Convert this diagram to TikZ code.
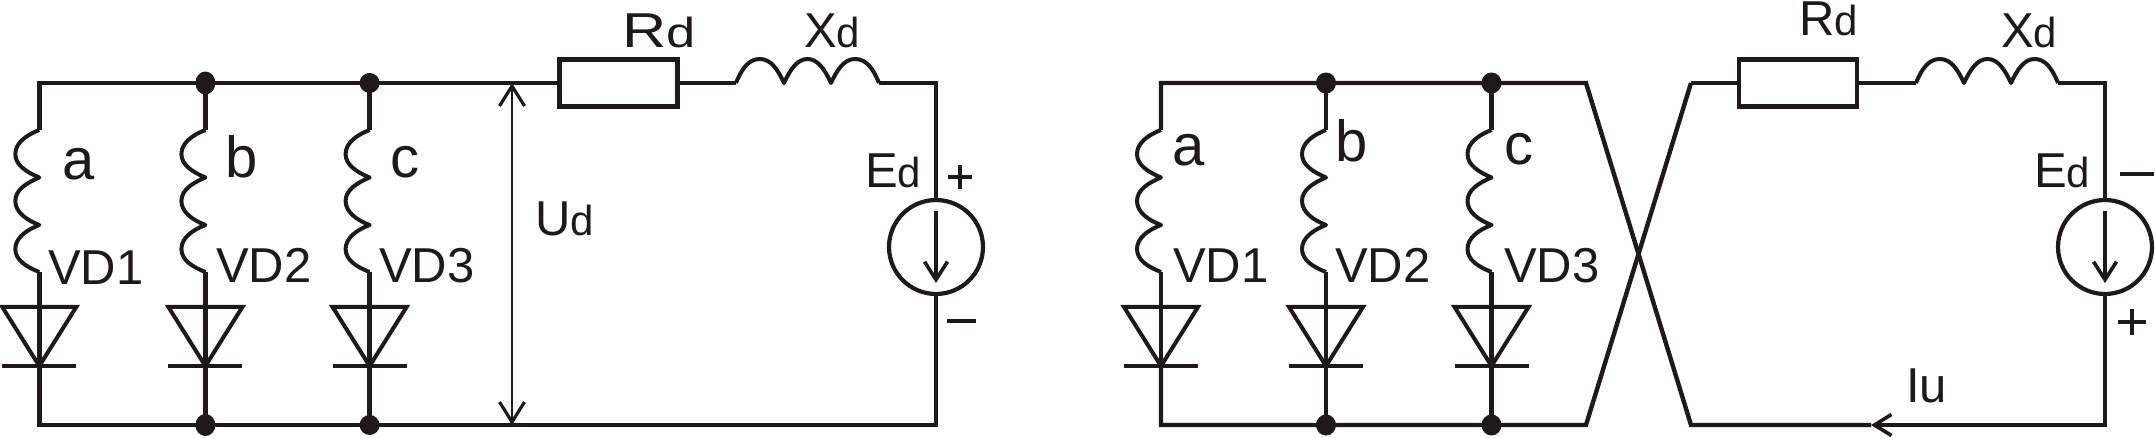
\documentclass[tikz,border=0pt]{standalone}
\usepackage{fontspec}
\setmainfont{Liberation Sans}
\usetikzlibrary{shapes.geometric,arrows.meta}
\definecolor{ink}{HTML}{1F1A17}
\tikzset{
  wire/.style={draw=ink,line width=4.4pt,line join=miter},
  thinwire/.style={draw=ink,line width=3.2pt},
  coil/.style={draw=ink,line width=4pt,line join=round},
  diodeshape/.style={draw=ink,line width=4pt,line join=miter},
  junction/.style={ellipse,fill=ink,draw=none,inner sep=0pt,minimum width=20pt,minimum height=#1},
  junction/.default=21pt,
  resbox/.style={rectangle,draw=ink,line width=4.4pt,fill=white,inner sep=0pt,minimum width=118pt,minimum height=47pt},
  source/.style={circle,draw=ink,line width=4.2pt,inner sep=0pt,minimum size=94pt},
  lab/.style={anchor=base west,inner sep=0pt,outer sep=0pt,text=ink},
  sign/.style={draw=ink,line width=3.8pt},
  voltarrow/.style={draw=ink,line width=2pt,{Straight Barb[length=20pt,width=25pt,line width=3.2pt]}-{Straight Barb[length=20pt,width=25pt,line width=3.2pt]}},
  emfarrow/.style={draw=ink,line width=3.6pt,-{Straight Barb[length=18pt,width=23pt,line width=3.6pt]}},
  currarrow/.style={wire,-{Straight Barb[length=17pt,width=21pt,line width=3.6pt]}}
}
\newcommand{\capl}[1]{\fontsize{49}{49}\selectfont #1}
\newcommand{\subd}{\fontsize{42}{42}\selectfont d}
\newcommand{\phasel}[1]{\fontsize{58}{58}\selectfont #1}
% one branch: prefix, x
\newcommand{\mybranch}[2]{%
  \coordinate (#1t) at (#2,83);
  \coordinate (#1c0) at (#2,130);
  \coordinate (#1c3) at (#2,272);
  \coordinate (#1d) at (#2,366);
  \coordinate (#1b) at (#2,425);
  \draw[wire] (#1t) -- (#1c0);
  \draw[coil] (#1c0)
    .. controls (#2-13,135) and (#2-24,143) .. (#2-24,154)
    .. controls (#2-24,165) and (#2-13,172) .. (#2,177.5)
    .. controls (#2-13,183) and (#2-24,190) .. (#2-24,201)
    .. controls (#2-24,212) and (#2-13,220) .. (#2,225)
    .. controls (#2-13,230) and (#2-24,238) .. (#2-24,249)
    .. controls (#2-24,260) and (#2-13,267) .. (#1c3);
  \draw[wire] (#1c3) -- (#1b);
  \draw[diodeshape] (#2-37,307) -- (#2+37,307) -- (#1d) -- cycle;
  \draw[diodeshape] (#2-37,366) -- (#2+37,366);
}
% horizontal coil: prefix, x0, x1, x2, x3
\newcommand{\myhcoil}[5]{%
  \coordinate (#1a) at (#2,83);
  \coordinate (#1z) at (#5,83);
  \draw[coil] (#1a)
    .. controls (#2+6,68) and (#2+13,59) .. ({(#2+#3)/2},59)
    .. controls (#3-13,59) and (#3-6,70) .. (#3,83)
    .. controls (#3+6,70) and (#3+13,59) .. ({(#3+#4)/2},59)
    .. controls (#4-13,59) and (#4-6,70) .. (#4,83)
    .. controls (#4+6,70) and (#4+13,59) .. ({(#4+#5)/2},59)
    .. controls (#5-13,59) and (#5-6,68) .. (#1z);
}
\begin{document}
\begin{tikzpicture}[x=1pt,y=-1pt]
\useasboundingbox[fill=white] (0,0) rectangle (2155,438);

% ---------- left circuit ----------
\mybranch{la}{39.3}
\mybranch{lb}{205.4}
\mybranch{lc}{369.6}
\coordinate (lth) at (420,83);
\coordinate (lua) at (512,83);
\coordinate (lub) at (512,425);
\node[resbox] (lr) at (618.5,83) {};
\myhcoil{lx}{736}{784}{831}{879}
\coordinate (lcornertop) at (936,83);
\coordinate (lcornerbot) at (936,425);
\node[source] (le) at (936,247) {};

\draw[wire] (lac0) -- (lat) -- (lth);
\draw[thinwire] (lth) -- (lr.west);
\draw[wire] (lr.east) -- (lxa);
\draw[wire] (lxz) -- (lcornertop) -- (le.north);
\draw[wire] (le.south) -- (lcornerbot) -- (lab) -- (lad);
\draw[voltarrow] (lua) -- (lub);
\coordinate (leh) at (936,211);
\coordinate (let) at (936,283);
\draw[emfarrow] (leh) -- (let);

\node[junction=23pt] (ldb) at (lbt) {};
\node[junction=20pt] (ldc) at (lct) {};
\node[junction=22pt] (ldbb) at (lbb) {};
\node[junction=20pt] (ldcb) at (lcb) {};

\node[lab] (tla) at (62,180) {\phasel{a}};
\node[lab] (tlb) at (225,178) {\phasel{b}};
\node[lab] (tlc) at (390,178) {\phasel{c}};
\node[lab] (tlv1) at (48,285) {\capl{VD1}};
\node[lab] (tlv2) at (216,283) {\capl{VD2}};
\node[lab] (tlv3) at (379,283) {\capl{VD3}};
\node[lab] (tlu) at (535,236) {\capl{U}\subd};
\node[lab,xscale=1.25] (tlr) at (622,48) {\capl{R}\subd};
\node[lab] (tlx) at (804,48) {\capl{X}\subd};
\node[lab] (tle) at (865,188) {\capl{E}\subd};
\draw[sign] (948,177) -- (972,177) (960,165) -- (960,189);
\draw[sign] (947,321) -- (976,321);

% ---------- right circuit ----------
\mybranch{ra}{1161}
\mybranch{rb}{1326}
\mybranch{rc}{1491.5}
\coordinate (rtl) at (1586,83);
\coordinate (rbl) at (1586,425);
\coordinate (rtr) at (1691,83);
\coordinate (rbr) at (1691,425);
\node[resbox] (rr) at (1798,83) {};
\myhcoil{rx}{1916}{1964}{2011}{2058}
\coordinate (rcornertop) at (2105,83);
\coordinate (rcornerbot) at (2105,425);
\node[source] (re) at (2105,247) {};
\coordinate (riu) at (1871,425);

\draw[wire] (rac0) -- (rat) -- (rtl) -- (rbr) -- (riu);
\draw[wire] (rad) -- (rab) -- (rbl) -- (rtr);
\draw[thinwire] (rtr) -- (rr.west);
\draw[thinwire] (rr.east) -- (rxa);
\draw[wire] (rxz) -- (rcornertop) -- (re.north);
\draw[currarrow] (re.south) -- (rcornerbot) -- (riu);
\coordinate (reh) at (2105,211);
\coordinate (ret) at (2105,283);
\draw[emfarrow] (reh) -- (ret);

\node[junction=21pt] (rdb) at (rbt) {};
\node[junction=21pt] (rdc) at (rct) {};
\node[junction=21pt] (rdbb) at (rbb) {};
\node[junction=21pt] (rdcb) at (rcb) {};

\node[lab] (tra) at (1172,166) {\phasel{a}};
\node[lab] (trb) at (1335,162) {\phasel{b}};
\node[lab] (trc) at (1504,165) {\phasel{c}};
\node[lab] (trv1) at (1173,283) {\capl{VD1}};
\node[lab] (trv2) at (1335,283) {\capl{VD2}};
\node[lab] (trv3) at (1504,283) {\capl{VD3}};
\node[lab] (trr) at (1799,36) {\capl{R}\subd};
\node[lab] (trx) at (2001,48) {\capl{X}\subd};
\node[lab] (tre) at (2034,188) {\capl{E}\subd};
\node[lab] (tri) at (1906,402) {\capl{Iu}};
\draw[sign] (2120,174) -- (2154,174);
\draw[sign,line width=4.5pt] (2118,322) -- (2146,322) (2132,309) -- (2132,335);
\end{tikzpicture}
\end{document}
